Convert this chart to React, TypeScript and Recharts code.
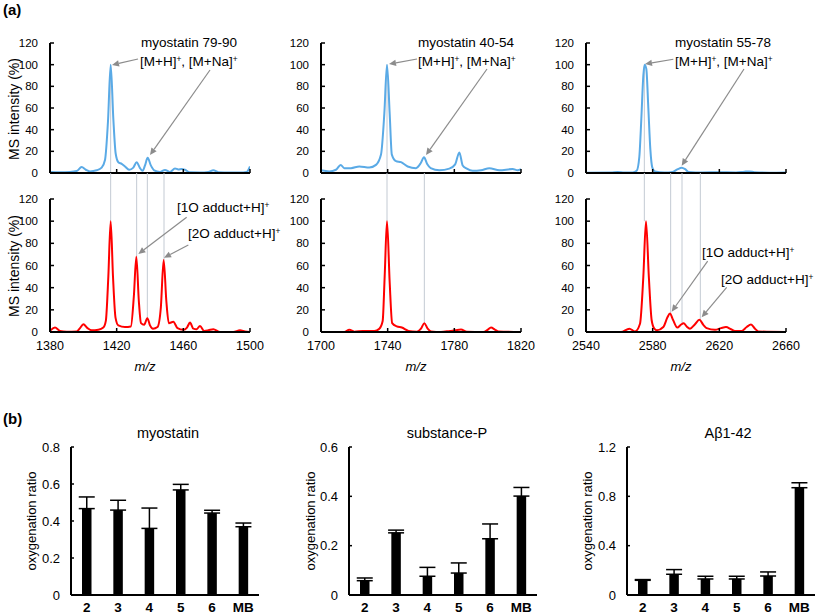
import React from "react";
import { LineChart, Line, XAxis, YAxis, ReferenceLine, BarChart, Bar, ErrorBar } from "recharts";

type Pt = [number, number];

// ---- (a) mass spectra, [m/z, intensity %] ----
const specLeftTop: Pt[] = [
  [1380, 1], [1386, 0.8], [1392, 1], [1396, 1.8], [1399, 5.5], [1401.5, 3], [1404, 1.5], [1408, 2.5],
  [1411, 5], [1413, 12], [1414.8, 48], [1416.4, 100], [1418, 50], [1419.4, 18], [1421, 10], [1423, 8.5],
  [1425, 6], [1427.5, 3], [1430, 5], [1432, 10], [1434, 4.5], [1435.6, 2], [1437, 7], [1438.6, 14],
  [1440.5, 7], [1442.5, 2.5], [1446, 1], [1449, 2.8], [1452, 1], [1455, 4.2], [1457, 3.3], [1459, 3.8],
  [1461, 3], [1464, 0.6], [1470, 0.5], [1475, 1], [1478, 2.5], [1481, 0.8], [1488, 0.5], [1494, 0.5],
  [1498, 1], [1500, 6],
];
const specLeftBot: Pt[] = [
  [1380, 1], [1383, 4], [1386, 1], [1390, 0.3], [1396, 0.5], [1398, 3.5], [1400, 7], [1402.5, 3.5],
  [1405, 1.5], [1409, 2], [1412, 4], [1413.5, 10], [1415, 50], [1416.4, 100], [1417.8, 50], [1419.3, 13],
  [1421, 6], [1425, 4.5], [1428.5, 5], [1430.3, 32], [1431.8, 68], [1433.3, 28], [1434.6, 8], [1436.5, 6.5],
  [1438.4, 12.5], [1440, 6], [1441.8, 3], [1444.5, 4.5], [1446.5, 22], [1448.2, 65], [1449.8, 28],
  [1451.3, 8], [1454, 9.2], [1456.5, 3.5], [1460, 2], [1462.2, 4], [1464, 8.5], [1466, 3], [1468, 2.5],
  [1470, 5.5], [1472.5, 1], [1475, 1.5], [1478, 2.5], [1482, 0], [1490, 0], [1494, 1.5], [1497, 0.5], [1500, 0],
];
const specMidTop: Pt[] = [
  [1700, 2.5], [1705, 1.5], [1709, 3], [1711.8, 7.5], [1714, 4.5], [1718, 4.5], [1723, 6], [1729, 5],
  [1733, 7.5], [1736, 17], [1738, 55], [1739.6, 100], [1741.2, 55], [1742.5, 17], [1745, 11], [1748, 10],
  [1752, 6], [1757, 4.5], [1759.8, 9], [1761.8, 14.5], [1763.8, 8], [1765.8, 4.5], [1771, 2.5], [1777, 4],
  [1780.5, 8], [1783, 19], [1785, 7], [1787.5, 4], [1791, 2], [1796, 2.5], [1801, 4.5], [1807, 2.5],
  [1815, 3.7], [1818, 2.5], [1820, 3.5],
];
const specMidBot: Pt[] = [
  [1700, 0], [1714, 0], [1717, 2], [1720, 0.3], [1725, 1], [1732, 0.8], [1735, 3], [1737, 10], [1738.2, 50],
  [1739.6, 100], [1741.2, 45], [1742.7, 8], [1745.5, 5], [1748.5, 4], [1752.5, 1], [1757.5, 0.3], [1760, 3],
  [1762, 8], [1764, 3], [1766, 0.5], [1772, 0], [1777.5, 1], [1780.5, 1.5], [1784, 2.2], [1787.5, 0.3],
  [1797.5, 0], [1800, 2], [1802, 4], [1804.5, 2], [1806.5, 0.5], [1820, 0],
];
const specRightTop: Pt[] = [
  [2540, 0.3], [2555, 0.5], [2559, 1], [2563, 0.5], [2568, 0.5], [2570.4, 2], [2572, 15], [2573.2, 50],
  [2574.4, 90], [2575.2, 100], [2576.2, 96], [2577.4, 60], [2578.6, 22], [2579.8, 5], [2581.4, 1.5],
  [2587, 0.5], [2592, 1], [2595, 3.5], [2597.4, 4.8], [2599.5, 3.5], [2601.5, 1], [2610, 0.5], [2619, 0.8],
  [2630, 0.5], [2635, 1.2], [2638, 1.5], [2641, 0.8], [2650, 0.3], [2660, 0.5],
];
const specRightBot: Pt[] = [
  [2540, 0], [2561, 0], [2566, 3], [2569.4, 0.5], [2572.4, 7.5], [2574.4, 50], [2576, 100], [2577.7, 50],
  [2579.4, 10.6], [2581, 3], [2582.5, 1.5], [2586.4, 4.5], [2588.8, 13], [2590.4, 16.8], [2592.2, 11],
  [2594.8, 4], [2596.9, 6.5], [2598.6, 8], [2600.4, 5], [2602.4, 3], [2605.4, 7], [2608, 11], [2610.4, 6.5],
  [2612.4, 3.5], [2617.4, 2], [2621, 3.5], [2624, 4.5], [2627, 2.5], [2629.4, 1], [2633.4, 1], [2636.4, 4.5],
  [2639, 6.8], [2641.4, 3], [2643.4, 0.5], [2660, 0],
];

const intensityTicks = [0, 20, 40, 60, 80, 100, 120];
const mzTicksLeft = [1380, 1420, 1460, 1500];
const mzTicksMid = [1700, 1740, 1780, 1820];
const mzTicksRight = [2540, 2580, 2620, 2660];

// guide lines from the top spectrum down to the bottom peaks: [m/z, bottom peak height]
const guidesLeft: Pt[] = [[1416.4, 100], [1432, 68], [1438.4, 12.5], [1448.4, 65]];
const guidesMid: Pt[] = [[1739.6, 100], [1762, 8]];
const guidesRight: Pt[] = [[2575, 100], [2590.8, 16.8], [2597.6, 8], [2608.6, 11]];

// arrows: [from m/z, from y, to m/z, to y]
type Arr = [number, number, number, number];
const arrowsLeftTop: Arr[] = [[1432.8, 105.2, 1417.2, 99.7], [1476, 95.1, 1440, 16.6]];
const arrowsMidTop: Arr[] = [[1757.6, 105.2, 1740.8, 100.6], [1799.6, 96, 1763, 16.6]];
const arrowsRightTop: Arr[] = [[2592.4, 105, 2575.4, 100.6], [2634.8, 96, 2597.4, 6.7]];
const arrowsLeftBot: Arr[] = [[1462, 103.5, 1433, 70.4], [1463, 78.5, 1448.4, 67]];
const arrowsRightBot: Arr[] = [[2613, 64, 2591.4, 18.3], [2624.4, 40.3, 2609.4, 13.3]];

// ---- (b) oxygenation ratios ----
const catalysts = ["2", "3", "4", "5", "6", "MB"];
const myostatinRatio = [0.467, 0.459, 0.36, 0.568, 0.443, 0.369];
const myostatinErr = [0.063, 0.053, 0.11, 0.03, 0.015, 0.02];
const substancePRatio = [0.058, 0.252, 0.076, 0.089, 0.228, 0.401];
const substancePErr = [0.011, 0.011, 0.036, 0.041, 0.06, 0.035];
const abetaRatio = [0.119, 0.168, 0.13, 0.13, 0.154, 0.87];
const abetaErr = [0.006, 0.038, 0.022, 0.022, 0.033, 0.04];

const FONT = '"Liberation Sans", Arial, Helvetica, sans-serif';
const BLUE = "#5aaae6";
const RED = "#ff0000";
const GUIDE = "#c3cad3";
const ARROW = "#8c8c8c";

// layout
const TOP_Y = 43, TOP_H = 130;
const BOT_Y = 199, BOT_H = 133;
const PW = 200;
const BRIDGE = 120 + (BOT_Y - (TOP_Y + TOP_H)) / (BOT_H / 120);

const ArrowShape = (p: any) => {
  const { x1, y1, x2, y2 } = p;
  const dx = x2 - x1, dy = y2 - y1;
  const len = Math.hypot(dx, dy) || 1;
  const ux = dx / len, uy = dy / len;
  const L = 7, W = 3.2;
  const bx = x2 - ux * L, by = y2 - uy * L;
  const pts = `${x2},${y2} ${bx - uy * W},${by + ux * W} ${bx + uy * W},${by - ux * W}`;
  return (
    <g>
      <line x1={x1} y1={y1} x2={bx} y2={by} stroke={ARROW} strokeWidth={1.2} />
      <polygon points={pts} fill={ARROW} />
    </g>
  );
};

type SpecProps = {
  left: number;
  top: number;
  height: number;
  data: Pt[];
  color: string;
  ticks: number[];
  bottom: boolean;
  guides: Pt[];
  arrows: Arr[];
};

function Spectrum({ left, top, height, data, color, ticks, bottom, guides, arrows }: SpecProps) {
  const rows = data.map(([mz, v]) => ({ mz, v }));
  const domain: [number, number] = [ticks[0], ticks[ticks.length - 1]];
  return (
    <div style={{ position: "absolute", left: left - 45, top: top - 10 }}>
      <LineChart width={45 + PW + 15} height={10 + height + 25} data={rows} margin={{ top: 10, right: 15, left: 0, bottom: 0 }}>
        <XAxis
          dataKey="mz"
          type="number"
          domain={domain}
          ticks={ticks}
          allowDataOverflow
          height={25}
          axisLine={{ stroke: "#000", strokeWidth: 2 }}
          tickLine={{ stroke: "#000", strokeWidth: 1.5 }}
          tickSize={-4}
          tickMargin={13}
          tick={{ fill: "#000", fontSize: 12.5, fontFamily: FONT }}
          tickFormatter={(v) => (bottom ? String(v) : "")}
        />
        <YAxis
          type="number"
          domain={[0, 120]}
          ticks={intensityTicks}
          width={45}
          axisLine={{ stroke: "#000", strokeWidth: 2 }}
          tickLine={{ stroke: "#000", strokeWidth: 1.5 }}
          tickSize={-4}
          tickMargin={16}
          tick={{ fill: "#000", fontSize: 11.5, fontFamily: FONT }}
        />
        {bottom
          ? guides.map(([x, y], i) => (
              <ReferenceLine key={"g" + i} ifOverflow="visible" stroke={GUIDE} strokeWidth={1}
                segment={[{ x, y: BRIDGE }, { x, y }]} />
            ))
          : guides.slice(0, 1).map(([x], i) => (
              <ReferenceLine key={"g" + i} ifOverflow="visible" stroke={GUIDE} strokeWidth={1}
                segment={[{ x, y: 100 }, { x, y: 0 }]} />
            ))}
        <Line type="monotone" dataKey="v" stroke={color} strokeWidth={2} dot={false} isAnimationActive={false} />
        {arrows.map(([fx, fy, tx, ty], i) => (
          <ReferenceLine key={"a" + i} ifOverflow="visible" shape={ArrowShape}
            segment={[{ x: fx, y: fy }, { x: tx, y: ty }]} />
        ))}
      </LineChart>
    </div>
  );
}

type BarProps = { left: number; values: number[]; errs: number[]; max: number; ticks: number[] };

function RatioBars({ left, values, errs, max, ticks }: BarProps) {
  const rows = catalysts.map((c, i) => ({ c, v: values[i], e: [0, errs[i]] }));
  return (
    <div style={{ position: "absolute", left: left - 50, top: 447 - 10 }}>
      <BarChart width={50 + 188 + 2} height={10 + 148 + 21} data={rows} margin={{ top: 10, right: 2, left: 0, bottom: 0 }}>
        <XAxis
          dataKey="c"
          interval={0}
          height={21}
          axisLine={{ stroke: "#000", strokeWidth: 2 }}
          tickLine={false}
          tickSize={0}
          tickMargin={7}
          tick={{ fill: "#000", fontSize: 13.5, fontWeight: "bold", fontFamily: FONT }}
        />
        <YAxis
          type="number"
          domain={[0, max]}
          ticks={ticks}
          width={50}
          axisLine={{ stroke: "#000", strokeWidth: 2 }}
          tickLine={{ stroke: "#000", strokeWidth: 1.5 }}
          tickSize={-3}
          tickMargin={14}
          tick={{ fill: "#000", fontSize: 13, fontFamily: FONT }}
        />
        <Bar dataKey="v" fill="#000" barSize={9.5} isAnimationActive={false}>
          <ErrorBar dataKey="e" width={8} stroke="#000" strokeWidth={1.5} direction="y" isAnimationActive={false} />
        </Bar>
      </BarChart>
    </div>
  );
}

const Sup = ({ children }: { children: React.ReactNode }) => (
  <span style={{ fontSize: "0.62em", position: "relative", top: "-0.5em" }}>{children}</span>
);

const Note = ({ x, y, children }: { x: number; y: number; children: React.ReactNode }) => (
  <div style={{ position: "absolute", left: x, top: y - 8, lineHeight: "16px", fontSize: 13.5, whiteSpace: "nowrap" }}>
    {children}
  </div>
);

const VLabel = ({ x, y, text, size }: { x: number; y: number; text: string; size: number }) => (
  <div style={{
    position: "absolute", left: x, top: y, fontSize: size, whiteSpace: "nowrap",
    transform: "translate(-50%, -50%) rotate(-90deg)",
  }}>
    {text}
  </div>
);

const Centered = ({ x, y, children, style }: { x: number; y: number; children: React.ReactNode; style?: React.CSSProperties }) => (
  <div style={{ position: "absolute", left: x, top: y, transform: "translate(-50%, -50%)", whiteSpace: "nowrap", ...style }}>
    {children}
  </div>
);

export default function App() {
  return (
    <div style={{ position: "absolute", left: 0, top: 0, width: 817, height: 616, overflow: "hidden", background: "#fff", fontFamily: FONT, color: "#000" }}>
      <style>{`.recharts-surface{overflow:visible}`}</style>

      <div style={{ position: "absolute", left: 3, top: 1, fontSize: 15, fontWeight: "bold" }}>(a)</div>
      <div style={{ position: "absolute", left: 3, top: 410, fontSize: 15, fontWeight: "bold" }}>(b)</div>

      <Spectrum left={50} top={TOP_Y} height={TOP_H} data={specLeftTop} color={BLUE} ticks={mzTicksLeft} bottom={false} guides={guidesLeft} arrows={arrowsLeftTop} />
      <Spectrum left={321} top={TOP_Y} height={TOP_H} data={specMidTop} color={BLUE} ticks={mzTicksMid} bottom={false} guides={guidesMid} arrows={arrowsMidTop} />
      <Spectrum left={586} top={TOP_Y} height={TOP_H} data={specRightTop} color={BLUE} ticks={mzTicksRight} bottom={false} guides={guidesRight} arrows={arrowsRightTop} />
      <Spectrum left={50} top={BOT_Y} height={BOT_H} data={specLeftBot} color={RED} ticks={mzTicksLeft} bottom guides={guidesLeft} arrows={arrowsLeftBot} />
      <Spectrum left={321} top={BOT_Y} height={BOT_H} data={specMidBot} color={RED} ticks={mzTicksMid} bottom guides={guidesMid} arrows={[]} />
      <Spectrum left={586} top={BOT_Y} height={BOT_H} data={specRightBot} color={RED} ticks={mzTicksRight} bottom guides={guidesRight} arrows={arrowsRightBot} />

      <VLabel x={13.5} y={109} text="MS intensity (%)" size={14} />
      <VLabel x={13.5} y={266} text="MS intensity (%)" size={14} />

      <Note x={141} y={43}>myostatin 79-90</Note>
      <Note x={140} y={62}>[M+H]<Sup>+</Sup>, [M+Na]<Sup>+</Sup></Note>
      <Note x={418} y={43}>myostatin 40-54</Note>
      <Note x={418} y={62}>[M+H]<Sup>+</Sup>, [M+Na]<Sup>+</Sup></Note>
      <Note x={675} y={43}>myostatin 55-78</Note>
      <Note x={675} y={62}>[M+H]<Sup>+</Sup>, [M+Na]<Sup>+</Sup></Note>
      <Note x={177} y={208}>[1O adduct+H]<Sup>+</Sup></Note>
      <Note x={188} y={234}>[2O adduct+H]<Sup>+</Sup></Note>
      <Note x={702} y={253}>[1O adduct+H]<Sup>+</Sup></Note>
      <Note x={721} y={280}>[2O adduct+H]<Sup>+</Sup></Note>

      <Centered x={145} y={366} style={{ fontStyle: "italic", fontSize: 13 }}>m/z</Centered>
      <Centered x={416} y={366} style={{ fontStyle: "italic", fontSize: 13 }}>m/z</Centered>
      <Centered x={681} y={366} style={{ fontStyle: "italic", fontSize: 13 }}>m/z</Centered>

      <RatioBars left={71} values={myostatinRatio} errs={myostatinErr} max={0.8} ticks={[0, 0.2, 0.4, 0.6, 0.8]} />
      <RatioBars left={349} values={substancePRatio} errs={substancePErr} max={0.6} ticks={[0, 0.2, 0.4, 0.6]} />
      <RatioBars left={627} values={abetaRatio} errs={abetaErr} max={1.2} ticks={[0, 0.4, 0.8, 1.2]} />

      <Centered x={168} y={433} style={{ fontSize: 14.5 }}>myostatin</Centered>
      <Centered x={447} y={433} style={{ fontSize: 14.5 }}>substance-P</Centered>
      <Centered x={728} y={433} style={{ fontSize: 14.5 }}>Aβ1-42</Centered>

      <VLabel x={31} y={521} text="oxygenation ratio" size={13} />
      <VLabel x={310} y={521} text="oxygenation ratio" size={13} />
      <VLabel x={587} y={521} text="oxygenation ratio" size={13} />
    </div>
  );
}
